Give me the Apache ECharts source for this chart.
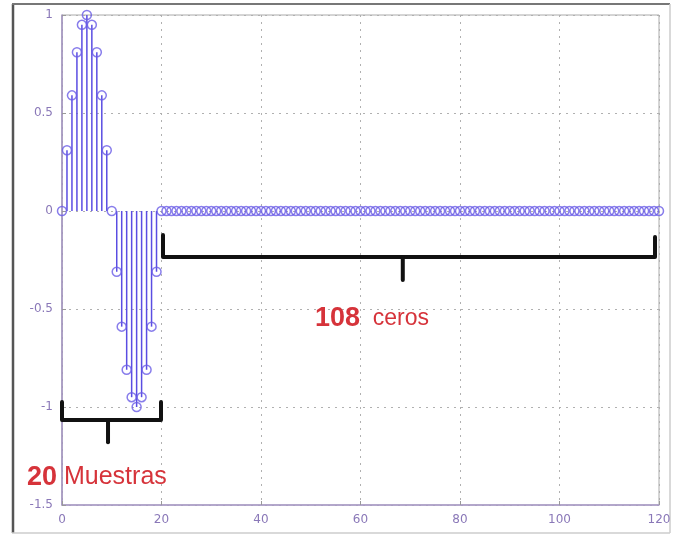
<!DOCTYPE html>
<html>
<head>
<meta charset="utf-8">
<script src="https://cdn.jsdelivr.net/npm/echarts@6/dist/echarts.min.js"></script>
<style>html,body{margin:0;padding:0;background:#fff}#c{width:674px;height:537px}</style>
</head>
<body>
<div id="c"></div>
<script>
// One period of the signal (20 samples)
var signalValues = [0, 0.31, 0.59, 0.81, 0.95, 1, 0.95, 0.81, 0.59, 0.31,
                    0, -0.31, -0.59, -0.81, -0.95, -1, -0.95, -0.81, -0.59, -0.31];
// 108 zero samples
var zeroValues = [0,0,0,0,0,0,0,0,0,0, 0,0,0,0,0,0,0,0,0,0, 0,0,0,0,0,0,0,0,0,0,
                  0,0,0,0,0,0,0,0,0,0, 0,0,0,0,0,0,0,0,0,0, 0,0,0,0,0,0,0,0,0,0,
                  0,0,0,0,0,0,0,0,0,0, 0,0,0,0,0,0,0,0,0,0, 0,0,0,0,0,0,0,0,0,0,
                  0,0,0,0,0,0,0,0,0,0, 0,0,0,0,0,0,0,0];
var xTicks = [0, 20, 40, 60, 80, 100, 120];
var yTicks = [-1.5, -1, -0.5, 0, 0.5, 1];
// Annotation braces (data coordinates)
var brace1 = [[0, -0.974], [0, -1.066], [19.9, -1.066], [19.9, -0.974]];
var brace1Tick = [[9.25, -1.066], [9.25, -1.18]];
var brace2 = [[20.3, -0.122], [20.3, -0.235], [119.2, -0.235], [119.2, -0.133]];
var brace2Tick = [[68.5, -0.235], [68.5, -0.352]];

var allValues = signalValues.concat(zeroValues);
var points = allValues.map(function (v, i) { return [i, v]; });

var chart = echarts.init(document.getElementById('c'), null, {renderer: 'canvas'});
var labelColor = '#8a78b8';
function braceSeries(d, w) {
  return {
    type: 'line', data: d, symbol: 'none', silent: true, z: 10,
    lineStyle: {color: '#111', width: w, cap: 'round', join: 'round'},
    clip: false, animation: false
  };
}
chart.setOption({
  animation: false,
  backgroundColor: '#fff',
  grid: {left: 62, right: 15, top: 15, bottom: 32, show: true, borderColor: '#aaa', borderWidth: 1},
  xAxis: {
    type: 'value', min: 0, max: 120, interval: 20,
    axisLine: {show: true, onZero: false, lineStyle: {color: '#a898c8', width: 1.5}},
    axisTick: {show: true, inside: true, length: 4, lineStyle: {color: '#999'}},
    axisLabel: {color: labelColor, fontSize: 12, fontFamily: 'DejaVu Sans', margin: 9,
      formatter: function (v) { return xTicks.indexOf(v) >= 0 ? String(v) : ''; }},
    splitLine: {show: true, lineStyle: {color: '#b0b0b0', type: [2, 5], width: 1}}
  },
  yAxis: {
    type: 'value', min: -1.5, max: 1, interval: 0.5,
    axisLine: {show: true, onZero: false, lineStyle: {color: '#a090c0', width: 1.5}},
    axisTick: {show: true, inside: true, length: 4, lineStyle: {color: '#999'}},
    axisLabel: {color: labelColor, fontSize: 12, fontFamily: 'DejaVu Sans', margin: 9,
      formatter: function (v) { return yTicks.indexOf(v) >= 0 ? String(v) : ''; }},
    splitLine: {show: true, lineStyle: {color: '#b0b0b0', type: [2, 5], width: 1}}
  },
  series: [
    {
      type: 'custom', data: points, clip: true, z: 2,
      renderItem: function (params, api) {
        var p0 = api.coord([api.value(0), 0]);
        var p1 = api.coord([api.value(0), api.value(1)]);
        return {type: 'line', shape: {x1: p0[0], y1: p0[1], x2: p1[0], y2: p1[1]},
          style: {stroke: '#5a4de2', lineWidth: 1.5}};
      }
    },
    {
      type: 'scatter', data: points, clip: true, z: 3,
      symbol: 'circle', symbolSize: 9,
      itemStyle: {color: 'rgba(255,255,255,0)', borderColor: '#6a5ce6', borderWidth: 1.5}
    },
    braceSeries(brace1, 4),
    braceSeries(brace1Tick, 4),
    braceSeries(brace2, 4),
    braceSeries(brace2Tick, 4)
  ],
  graphic: [
    {type: 'line', shape: {x1: 13, y1: 4, x2: 13, y2: 533}, style: {stroke: '#555', lineWidth: 2.5}},
    {type: 'line', shape: {x1: 12, y1: 4, x2: 670, y2: 4}, style: {stroke: '#777', lineWidth: 2}},
    {type: 'line', shape: {x1: 670, y1: 4, x2: 670, y2: 533}, style: {stroke: '#ccc', lineWidth: 1.5}},
    {type: 'line', shape: {x1: 12, y1: 533, x2: 670, y2: 533}, style: {stroke: '#ccc', lineWidth: 1.5}},
    {type: 'text', left: 27, top: 464, z: 20, style: {
      text: '{a|20}{b| Muestras}',
      rich: {
        a: {fontSize: 27, fontWeight: 'bold', fill: '#d6333a', fontFamily: 'Liberation Sans'},
        b: {fontSize: 25, fill: '#d6333a', fontFamily: 'Liberation Sans'}
      }
    }},
    {type: 'text', left: 315, top: 305, z: 20, style: {
      text: '{a|108}{b|  ceros}',
      rich: {
        a: {fontSize: 27, fontWeight: 'bold', fill: '#d6333a', fontFamily: 'Liberation Sans'},
        b: {fontSize: 23, fill: '#d6333a', fontFamily: 'Liberation Sans'}
      }
    }}
  ]
});
</script>
</body>
</html>
